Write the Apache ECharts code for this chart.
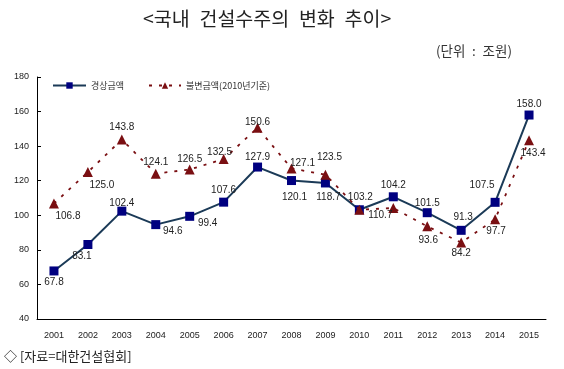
<!DOCTYPE html>
<html><head><meta charset="utf-8">
<script src="https://cdn.jsdelivr.net/npm/echarts@6/dist/echarts.min.js"></script>
<style>html,body{margin:0;padding:0;background:#fff}#c{width:564px;height:369px}</style>
</head><body><div id="c"></div>
<script>
const years = ['2001','2002','2003','2004','2005','2006','2007','2008','2009','2010','2011','2012','2013','2014','2015'];
const nominal = [67.8, 83.1, 102.4, 94.6, 99.4, 107.6, 127.9, 120.1, 118.7, 103.2, 110.7, 101.5, 91.3, 107.5, 158.0];
const real = [106.8, 125.0, 143.8, 124.1, 126.5, 132.5, 150.6, 127.1, 123.5, 103.2, 104.2, 93.6, 84.2, 97.7, 143.4];
const nominalLabels = ['67.8','83.1','102.4','94.6','99.4','107.6','127.9','120.1','118.7','103.2','104.2','101.5','91.3','107.5','158.0'];
const realLabels = ['106.8','125.0','143.8','124.1','126.5','132.5','150.6','127.1','123.5','','110.7','93.6','84.2','97.7','143.4'];
const yTicks = [40, 60, 80, 100, 120, 140, 160, 180];

const nomOff = [[0,11],[-6,12],[0,-8],[17,7],[18,7],[0,-12],[0,-10],[3,17],[3,14],[1,-13],[0,-12],[0,-9],[2,-13],[-13,-17],[0,-11]];
const realOff = [[14,13],[14,13],[0,-12],[0,-11],[0,-10],[-4,-7],[0,-6],[11,-5],[4,-17],[0,0],[-13,7],[1,14],[0,11],[1,12],[4,13]];

const labelStyle = {show:true, position:'inside', fontSize:10, color:'#222', fontFamily:'Liberation Sans, Arial, sans-serif'};
function mk(vals, labels, offs){
  return vals.map((v,i)=>({value:v, label:Object.assign({}, labelStyle, {offset:offs[i], formatter:labels[i], show: labels[i] !== ''})}));
}

const chart = echarts.init(document.getElementById('c'), null, {renderer:'canvas'});
chart.setOption({
  animation:false,
  backgroundColor:'#fff',
  title:[
    {text:'<국내\u2002건설수주의\u2002변화\u2002추이>', left:143, top:9, padding:0, textStyle:{fontSize:19.5, fontWeight:'normal', color:'#222', fontFamily:'Noto Sans CJK KR'}},
    {text:'(단위\u2002:\u2002조원)', right:52, top:44, padding:0, textStyle:{fontSize:13.5, fontWeight:'normal', color:'#333', fontFamily:'Noto Sans CJK KR'}},
    {text:'◇ [자료=대한건설협회]', left:4, top:350, padding:0, textStyle:{fontSize:13, fontWeight:'normal', color:'#222', fontFamily:'Noto Sans CJK KR'}}
  ],
  legend:[
    {data:['경상금액'], left:52, top:81, padding:0, itemWidth:33, itemHeight:8, itemGap:4, textStyle:{fontSize:9, color:'#333', fontFamily:'Noto Sans CJK KR'}},
    {data:['불변금액(2010년기준)'], left:148, top:81, padding:0, itemWidth:32, itemHeight:8, textStyle:{fontSize:9, color:'#333', fontFamily:'Noto Sans CJK KR'}}
  ],
  grid:{left:37, right:18, top:77, bottom:50, containLabel:false},
  xAxis:{type:'category', data:years, boundaryGap:true,
    axisLine:{lineStyle:{color:'#000', width:1}},
    axisTick:{inside:true, length:4, lineStyle:{color:'#000'}},
    axisLabel:{fontSize:9, color:'#222', margin:12, fontFamily:'Liberation Sans, Arial, sans-serif'}},
  yAxis:{type:'value', min:yTicks[0], max:yTicks[yTicks.length-1], interval:20,
    axisLine:{show:true, lineStyle:{color:'#000', width:1}},
    axisTick:{show:true, inside:true, length:4, lineStyle:{color:'#000'}},
    splitLine:{show:false},
    axisLabel:{fontSize:9, color:'#222', margin:8, fontFamily:'Liberation Sans, Arial, sans-serif'}},
  series:[
    {name:'경상금액', type:'line', data:mk(nominal, nominalLabels, nomOff), z:2,
      symbol:'rect', symbolSize:9,
      lineStyle:{color:'#1b3a57', width:2},
      itemStyle:{color:'#000080'}},
    {name:'불변금액(2010년기준)', type:'line', data:mk(real, realLabels, realOff), z:3,
      symbol:'triangle', symbolSize:10,
      lineStyle:{color:'#7a0f12', width:1.8, type:[3,7]},
      itemStyle:{color:'#7a0f12'}}
  ]
});
</script></body></html>
